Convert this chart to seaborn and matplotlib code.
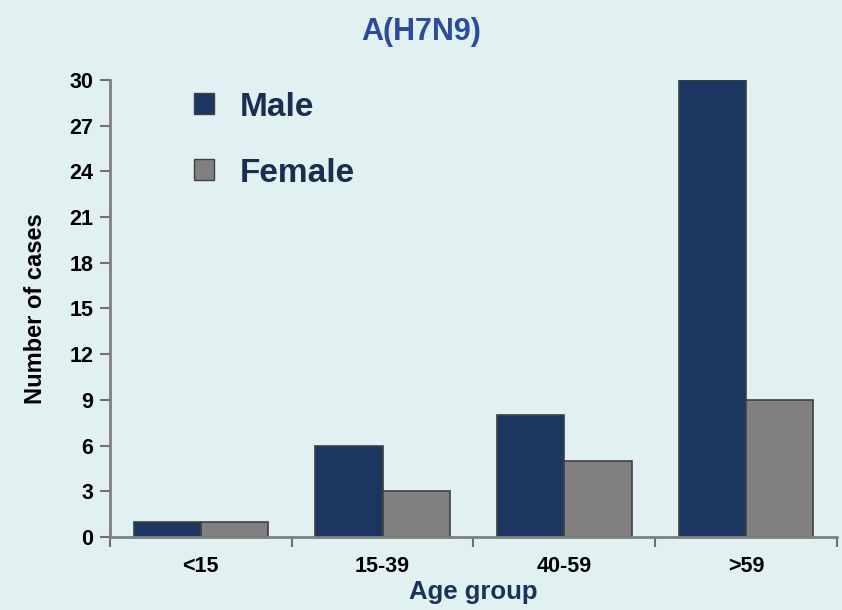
import pandas as pd
import matplotlib.pyplot as plt
import seaborn as sns
from matplotlib.ticker import FixedLocator
from matplotlib.patches import Patch

age_groups = ["<15", "15-39", "40-59", ">59"]
male = [1, 6, 8, 30]
female = [1, 3, 5, 9]

df = pd.DataFrame({
    "Age group": age_groups * 2,
    "Cases": male + female,
    "Sex": ["Male"] * 4 + ["Female"] * 4,
})

sns.set_style("white")
plt.rcParams['font.family'] = ['Liberation Sans', 'DejaVu Sans']

bg = "#e1f1f2"
male_col = "#1b3660"
female_col = "#808080"

fig = plt.figure(figsize=(8.42, 6.10), dpi=100, facecolor=bg)
ax = fig.add_axes([0.1306, 0.1197, 0.8634, 0.7493])
ax.set_facecolor(bg)

sns.barplot(data=df, x="Age group", y="Cases", hue="Sex", order=age_groups,
            hue_order=["Male", "Female"], palette=[male_col, female_col],
            width=0.74, edgecolor="#404040", linewidth=1.2, saturation=1,
            ax=ax, legend=False)

ax.set_xlim(-0.5, 3.5)
ax.set_ylim(0, 30)
ax.set_yticks(range(0, 31, 3))
ax.xaxis.set_minor_locator(FixedLocator([-0.5, 0.5, 1.5, 2.5, 3.5]))
ax.tick_params(axis="x", which="major", bottom=False, pad=10)
ax.tick_params(axis="x", which="minor", bottom=True, length=7, width=1.5,
               color="#707070", direction="out")
ax.tick_params(axis="y", left=True, length=7, width=1.5, color="#707070",
               direction="out", pad=5)
for lab in ax.get_xticklabels() + ax.get_yticklabels():
    lab.set_fontsize(15.5)
    lab.set_fontweight("bold")
    lab.set_color("black")

for s in ["top", "right"]:
    ax.spines[s].set_visible(False)
for s in ["left", "bottom"]:
    ax.spines[s].set_color("#808080")
    ax.spines[s].set_linewidth(2)

ax.set_xlabel("Age group", fontsize=18.5, fontweight="bold", color="#1a3358", labelpad=2)
ax.set_ylabel("Number of cases", fontsize=17, fontweight="bold", color="black", labelpad=16)

fig.text(0.5, 0.948, "A(H7N9)", ha="center", va="center", fontsize=22,
         fontweight="bold", color="#2c4c9b")

handles = [Patch(facecolor=male_col, edgecolor="#404040"),
           Patch(facecolor=female_col, edgecolor="#404040")]
leg = ax.legend(handles, ["Male", "Female"], loc="upper left",
                bbox_to_anchor=(0.075, 1.04), frameon=False,
                handlelength=0.6, handleheight=0.6, handletextpad=0.75,
                labelspacing=1.05, prop={"weight": "bold", "size": 24})
for t in leg.get_texts():
    t.set_color("#1a2e4e")

fig.savefig("out.png", dpi=100, facecolor=bg)
